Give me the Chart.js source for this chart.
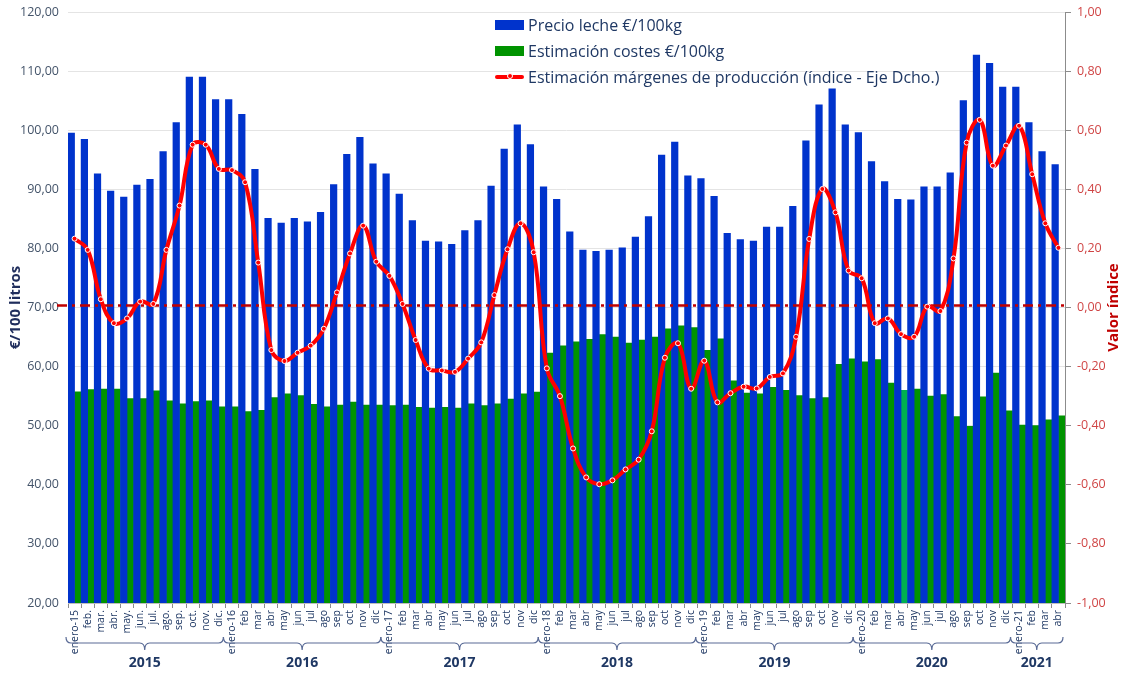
<!DOCTYPE html>
<html lang="es">
<head>
<meta charset="utf-8">
<title>Precio leche, costes y márgenes</title>
<script src="https://cdn.jsdelivr.net/npm/chart.js@4.4.1/dist/chart.umd.min.js"></script>
<style>
  body { margin: 0; background: #fff; }
  #wrap { position: relative; width: 1123px; height: 677px; }
  #legend { position: absolute; left: 495px; top: 12px; font-family: "Open Sans", sans-serif; font-size: 16px; color: #1f3864; }
  #legend .row { height: 26px; display: flex; align-items: center; white-space: nowrap; }
  #legend .sw { position: relative; width: 29px; height: 10px; margin-right: 4px; }
  #legend .dot { position: absolute; left: 12px; top: 2px; width: 4px; height: 4px; border: 1px solid #fff; border-radius: 50%; background: #ff0000; }
</style>
</head>
<body>
<div id="wrap">
  <canvas id="chart" width="1123" height="677"></canvas>
  <div id="legend"></div>
</div>
<script>
const meses = [
  'enero-15','feb.','mar.','abr.','may.','jun.','jul.','ago.','sep.','oct.','nov.','dic.',
  'enero-16','feb','mar','abr','may','jun','jul','ago','sep','oct','nov','dic',
  'enero-17','feb','mar','abr','may','jun','jul','ago','sep','oct','nov','dic',
  'enero-18','feb','mar','abr','may','jun','jul','ago','sep','oct','nov','dic',
  'enero-19','feb','mar','abr','may','jun','jul','ago','sep','oct','nov','dic',
  'enero-20','feb','mar','abr','may','jun','jul','ago','sep','oct','nov','dic',
  'enero-21','feb','mar','abr'
];
const anios = ['2015','2016','2017','2018','2019','2020','2021'];
const mesesPorAnio = [12, 12, 12, 12, 12, 12, 4];

const precioLeche = [
  99.5, 98.45, 92.6, 89.7, 88.7, 90.7, 91.7, 96.4, 101.3, 109.0, 109.0, 105.2,
  105.2, 102.7, 93.4, 85.1, 84.3, 85.1, 84.5, 86.1, 90.8, 95.9, 98.8, 94.3,
  92.6, 89.2, 84.7, 81.25, 81.1, 80.7, 83.0, 84.7, 90.55, 96.8, 100.9, 97.55,
  90.4, 88.3, 82.8, 79.7, 79.5, 79.7, 80.1, 81.9, 85.4, 95.8, 98.0, 92.3,
  91.8, 88.8, 82.55, 81.5, 81.25, 83.6, 83.6, 87.1, 98.2, 104.3, 107.0, 100.9,
  99.6, 94.7, 91.3, 88.3, 88.2, 90.4, 90.4, 92.8, 105.0, 112.7, 111.3, 107.3,
  107.3, 101.3, 96.4, 94.2
];
const costes = [
  55.75, 56.1, 56.2, 56.2, 54.6, 54.6, 55.9, 54.2, 53.7, 54.1, 54.2, 53.2,
  53.2, 52.4, 52.6, 54.75, 55.4, 55.1, 53.6, 53.2, 53.5, 54.0, 53.5, 53.5,
  53.4, 53.5, 53.1, 53.0, 53.1, 53.0, 53.7, 53.4, 53.7, 54.5, 55.4, 55.7,
  62.3, 63.5, 64.2, 64.6, 65.4, 65.0, 64.0, 64.5, 65.0, 66.4, 66.9, 66.6,
  62.75, 64.7, 57.6, 55.5, 55.4, 56.5, 56.0, 55.1, 54.6, 54.75, 60.4, 61.3,
  60.8, 61.2, 57.2, 56.0, 56.2, 55.0, 55.25, 51.55, 49.9, 54.9, 58.9, 52.5,
  50.1, 50.0, 51.0, 51.65
];
const margenes = [
  0.233, 0.195, 0.028, -0.053, -0.037, 0.02, 0.012, 0.195, 0.345, 0.551, 0.551, 0.469,
  0.465, 0.424, 0.152, -0.144, -0.181, -0.153, -0.129, -0.072, 0.051, 0.183, 0.277, 0.155,
  0.107, 0.012, -0.11, -0.207, -0.213, -0.218, -0.173, -0.118, 0.042, 0.197, 0.285, 0.187,
  -0.206, -0.30, -0.477, -0.575, -0.598, -0.585, -0.548, -0.515, -0.419, -0.17, -0.121, -0.275,
  -0.18, -0.321, -0.29, -0.268, -0.274, -0.235, -0.223, -0.099, 0.232, 0.401, 0.322, 0.125,
  0.099, -0.053, -0.037, -0.09, -0.099, 0.003, -0.012, 0.166, 0.558, 0.635, 0.48, 0.548,
  0.615, 0.451, 0.285, 0.202
];

// abr-20 aparece en verde más claro
const coloresCostes = costes.map((v, i) => i === 63 ? '#00b050' : '#009300');

const coma = v => (Math.abs(v) < 1e-9 ? 0 : v).toFixed(2).replace('.', ',');

Chart.defaults.font.family = '"Open Sans", "Noto Sans", sans-serif';

const extras = {
  id: 'extras',
  beforeDatasetDraw(chart, args) {
    if (args.index !== 2) return;
    const { ctx, chartArea, scales } = chart;
    const y0 = scales.y2.getPixelForValue(0) - 2;
    ctx.save();
    ctx.strokeStyle = '#c00000';
    ctx.lineWidth = 2.5;
    ctx.setLineDash([10, 5, 3, 5]);
    ctx.beginPath();
    ctx.moveTo(chartArea.left - 11, y0);
    ctx.lineTo(chartArea.right + 3, y0);
    ctx.stroke();
    ctx.restore();
  },
  afterDraw(chart) {
    const { ctx, chartArea, scales } = chart;
    const x = scales.x;
    const half = (x.getPixelForValue(1) - x.getPixelForValue(0)) / 2;
    const yb = 643;
    ctx.save();
    ctx.strokeStyle = '#5a6b96';
    ctx.lineWidth = 1.2;
    let start = 0;
    anios.forEach((anio, k) => {
      const end = start + mesesPorAnio[k] - 1;
      const xl = x.getPixelForValue(start) - half - 2;
      const xr = x.getPixelForValue(end) + half - 2;
      const xm = (xl + xr) / 2;
      ctx.beginPath();
      ctx.moveTo(xl, yb - 6);
      ctx.quadraticCurveTo(xl, yb, xl + 5, yb);
      ctx.lineTo(xm - 5, yb);
      ctx.quadraticCurveTo(xm, yb, xm, yb + 7);
      ctx.quadraticCurveTo(xm, yb, xm + 5, yb);
      ctx.lineTo(xr - 5, yb);
      ctx.quadraticCurveTo(xr, yb, xr, yb - 6);
      ctx.stroke();
      ctx.fillStyle = '#1f3864';
      ctx.font = 'bold 14px "Open Sans", sans-serif';
      ctx.textAlign = 'center';
      ctx.textBaseline = 'middle';
      ctx.fillText(anio, xm, 663);
      start = end + 1;
    });
    // título del eje derecho
    ctx.translate(1114, (chartArea.top + chartArea.bottom) / 2);
    ctx.rotate(-Math.PI / 2);
    ctx.fillStyle = '#c00000';
    ctx.font = 'bold 15px "Open Sans", sans-serif';
    ctx.textAlign = 'center';
    ctx.textBaseline = 'middle';
    ctx.fillText('Valor índice', 0, 0);
    ctx.restore();
  }
};

const chart = new Chart(document.getElementById('chart'), {
  type: 'bar',
  data: {
    labels: meses,
    datasets: [
      {
        label: 'Precio leche €/100kg',
        data: precioLeche,
        backgroundColor: '#0033cc',
        yAxisID: 'y',
        order: 1,
        barPercentage: 1,
        categoryPercentage: 1
      },
      {
        label: 'Estimación costes €/100kg',
        data: costes,
        backgroundColor: coloresCostes,
        yAxisID: 'y',
        order: 1,
        barPercentage: 1,
        categoryPercentage: 1
      },
      {
        type: 'line',
        label: 'Estimación márgenes de producción (índice - Eje Dcho.)',
        data: margenes,
        yAxisID: 'y2',
        order: 0,
        borderColor: '#ff0000',
        borderWidth: 4,
        tension: 0.4,
        pointRadius: 2.5,
        pointBackgroundColor: '#ff0000',
        pointBorderColor: '#ffffff',
        pointBorderWidth: 1
      }
    ]
  },
  options: {
    responsive: false,
    animation: false,
    layout: { padding: { top: 12, left: 0, right: 0, bottom: 0 } },
    plugins: {
      legend: { display: false },
      tooltip: { enabled: false }
    },
    scales: {
      x: {
        grid: { offset: true, drawOnChartArea: false, tickLength: 5, color: '#8c8c8c' },
        border: { display: true, color: '#bfbfbf' },
        ticks: {
          autoSkip: false, minRotation: 90, maxRotation: 90, padding: 2,
          color: '#1f3864', font: { size: 10.5 }
        },
        afterFit: s => { s.height = 74; }
      },
      y: {
        position: 'left',
        min: 20, max: 120,
        ticks: { stepSize: 10, callback: coma, color: '#44546a', font: { size: 12.5 }, padding: 9 },
        grid: { color: '#e4e4e4', drawTicks: false },
        border: { display: false },
        title: {
          display: true, text: '€/100 litros', color: '#1f2d5c',
          font: { size: 15, weight: 'bold' }, padding: { top: 7, bottom: 0 }
        },
        afterFit: s => { s.width = 68; s.paddingTop = 0; s.paddingBottom = 0; }
      },
      y2: {
        position: 'right',
        min: -1, max: 1,
        ticks: { stepSize: 0.2, callback: coma, color: '#d04545', font: { size: 12.5 }, padding: 6 },
        grid: { drawOnChartArea: false, tickLength: 6, color: '#8c8c8c' },
        border: { display: true, color: '#8c8c8c' },
        afterFit: s => { s.width = 58; s.paddingTop = 0; s.paddingBottom = 0; }
      }
    }
  },
  plugins: [extras]
});

// leyenda vertical arriba en el centro
const leyenda = document.getElementById('legend');
chart.data.datasets.forEach(ds => {
  const row = document.createElement('div');
  row.className = 'row';
  const sw = document.createElement('span');
  sw.className = 'sw';
  if (ds.type === 'line') {
    sw.style.height = '4px';
    sw.style.background = ds.borderColor;
    sw.style.borderRadius = '2px';
    const dot = document.createElement('span');
    dot.className = 'dot';
    dot.style.top = '-2px';
    sw.appendChild(dot);
  } else {
    sw.style.background = Array.isArray(ds.backgroundColor) ? ds.backgroundColor[0] : ds.backgroundColor;
  }
  const txt = document.createElement('span');
  txt.textContent = ds.label;
  row.appendChild(sw);
  row.appendChild(txt);
  leyenda.appendChild(row);
});
</script>
</body>
</html>
